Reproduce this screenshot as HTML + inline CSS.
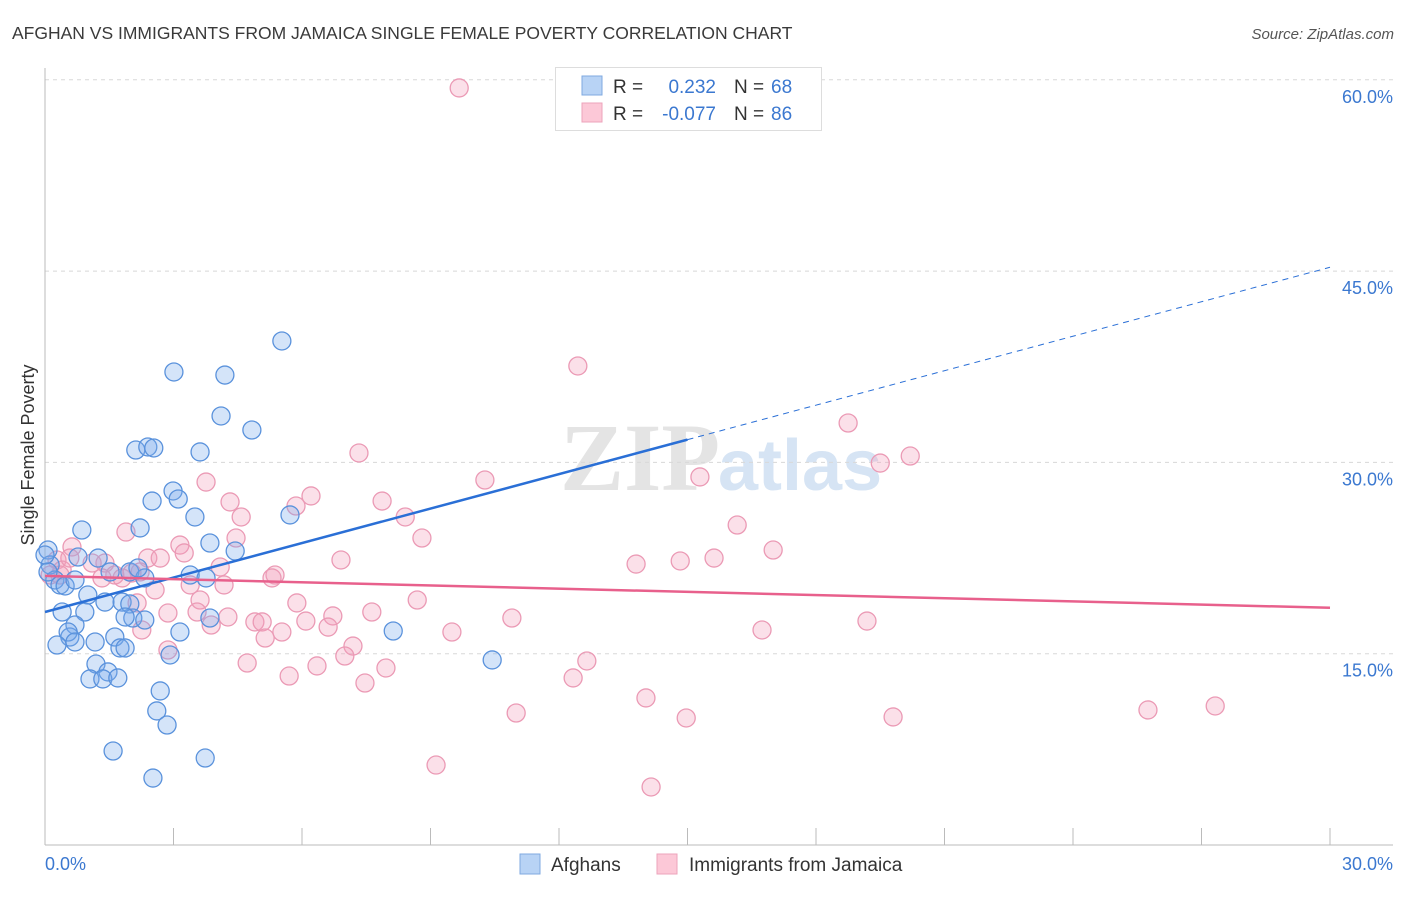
<!DOCTYPE html>
<html><head><meta charset="utf-8"><style>
body{margin:0;background:#fff;font-family:"Liberation Sans",sans-serif;}
</style></head><body>
<svg width="1406" height="892" xmlns="http://www.w3.org/2000/svg" id="chart" font-family="Liberation Sans, sans-serif">
<text x="12" y="39" font-size="17.5" fill="#3a3a3a">AFGHAN VS IMMIGRANTS FROM JAMAICA SINGLE FEMALE POVERTY CORRELATION CHART</text>
<text x="1394" y="39" font-size="15" fill="#555" font-style="italic" text-anchor="end">Source: ZipAtlas.com</text>
<text x="720" y="490" font-size="96" fill="#e4e4e4" text-anchor="end" font-family="Liberation Serif, serif" font-weight="bold">ZIP</text>
<text x="718" y="490" font-size="72" fill="#d6e4f4" font-weight="bold">atlas</text>
<g id="grid"></g>
<g id="axes"></g>
<g id="points"></g>
<g id="trends"></g>
<text transform="translate(34,455) rotate(-90)" font-size="18" fill="#333" text-anchor="middle">Single Female Poverty</text>
<g>
<rect x="555.5" y="67.5" width="266" height="63" fill="#fff" stroke="#ddd"/>
<rect x="582" y="76" width="20" height="19" fill="#b8d3f5" stroke="#7fa9e0"/>
<rect x="582" y="103" width="20" height="19" fill="#fcc8d7" stroke="#eda3bb"/>
<text x="613" y="93" font-size="19" fill="#333">R =</text>
<text x="716" y="93" font-size="19" fill="#3b78d0" text-anchor="end">0.232</text>
<text x="734" y="93" font-size="19" fill="#333">N =</text>
<text x="771" y="93" font-size="19" fill="#3b78d0">68</text>
<text x="613" y="120" font-size="19" fill="#333">R =</text>
<text x="716" y="120" font-size="19" fill="#3b78d0" text-anchor="end">-0.077</text>
<text x="734" y="120" font-size="19" fill="#333">N =</text>
<text x="771" y="120" font-size="19" fill="#3b78d0">86</text>
</g>
<g>
<rect x="520" y="854" width="20" height="20" fill="#b8d3f5" stroke="#7fa9e0"/>
<text x="551" y="871" font-size="19" fill="#333">Afghans</text>
<rect x="657" y="854" width="20" height="20" fill="#fcc8d7" stroke="#eda3bb"/>
<text x="689" y="871" font-size="19" fill="#333">Immigrants from Jamaica</text>
</g>
</svg>
<script>
const yTicks=[15,30,45,60];
const yTickLabels=["15.0%","30.0%","45.0%","60.0%"];
const xTickVals=[0,3,6,9,12,15,18,21,24,27,30];
const xEndLabels=["0.0%","30.0%"];
const afghanX=[5.53,3.01,4.20,4.11,4.83,2.12,2.40,2.54,3.62,2.99,2.50,3.11,3.50,5.72,0.86,2.22,3.85,4.44,1.24,0.77,0.07,0.12,0.23,0.35,0.07,1.52,1.98,2.33,2.17,3.39,3.76,0.47,0.70,1.00,1.40,1.80,0.40,0.93,1.98,2.05,1.87,2.33,3.15,0.70,0.58,0.54,0.70,1.17,0.28,1.63,1.75,1.87,2.92,8.13,10.44,1.19,1.47,1.05,1.35,1.70,2.69,2.61,2.85,1.59,3.85,3.74,2.52,0.00];
const afghanY=[39.52,37.09,36.85,33.64,32.54,30.97,31.21,31.13,30.82,27.76,26.97,27.13,25.72,25.88,24.70,24.86,23.68,23.05,22.50,22.58,23.13,21.96,20.78,20.39,21.41,21.41,21.41,20.94,21.72,21.17,20.94,20.31,20.78,19.60,19.05,19.05,18.27,18.27,18.90,17.80,17.88,17.64,16.70,17.25,16.31,16.70,15.92,15.92,15.68,16.31,15.45,15.45,14.90,16.78,14.51,14.19,13.57,13.02,13.02,13.10,12.08,10.51,9.41,7.37,17.80,6.82,5.25,22.74];
const jamX=[9.67,12.44,18.75,19.50,20.20,15.29,10.27,7.33,3.76,7.87,6.21,5.86,4.32,4.58,1.89,8.41,8.80,16.16,17.00,13.80,14.83,15.62,6.91,4.46,3.15,3.25,2.40,2.69,1.10,0.63,0.28,1.40,1.63,1.80,2.22,0.12,0.40,5.37,5.30,4.09,4.18,3.39,1.33,2.03,2.57,3.62,2.15,5.88,2.87,3.55,6.72,7.63,8.69,10.90,19.19,16.74,4.90,5.07,4.27,2.26,3.88,6.09,5.53,5.14,6.61,2.87,7.19,7.00,6.35,4.72,5.70,7.96,7.47,12.65,12.33,9.50,14.03,11.00,14.97,19.80,25.75,27.32,9.13,14.15,0.58,0.35];
const jamY=[59.36,37.56,33.09,29.95,30.50,28.86,28.62,30.74,28.46,26.97,27.37,26.58,26.90,25.72,24.54,25.72,24.07,25.09,23.13,22.03,22.27,22.50,22.35,24.07,23.52,22.90,22.50,22.50,22.11,23.37,22.35,22.11,21.17,20.94,21.41,21.17,21.56,21.17,20.94,21.80,20.39,20.39,20.94,21.33,20.00,19.21,18.98,18.98,18.19,18.27,17.96,18.27,19.21,17.80,17.56,16.86,17.49,17.49,17.88,16.86,17.25,17.56,16.70,16.23,17.09,15.29,15.60,14.82,14.04,14.27,13.25,13.88,12.70,14.43,13.10,16.70,11.53,10.35,9.96,10.04,10.59,10.90,6.27,4.55,22.50,21.17];
const afghanTrend=[18.27,45.3];
const jamTrend=[21.1,18.6];
const afghanSolidEnd=15;

const NS="http://www.w3.org/2000/svg";
const X0=45,X1=1330,Y0=845,PXY=191.3/15;
const sx=v=>X0+(X1-X0)*v/30;
const sy=v=>Y0-v*PXY;
function mk(tag,attrs,parent){const e=document.createElementNS(NS,tag);for(const k in attrs)e.setAttribute(k,attrs[k]);document.getElementById(parent).appendChild(e);return e;}
yTicks.forEach((t,i)=>{
  const g=mk('line',{x1:X0,x2:1393,y1:sy(t),y2:sy(t),stroke:'#d8d8d8','stroke-dasharray':'4,4'},'grid');
  
  
  const l=mk('text',{x:1393,y:sy(t)+23,'font-size':18,fill:'#3b78d0','text-anchor':'end'},'axes');
  l.textContent=yTickLabels[i];
  
  
});
const yax=mk('line',{x1:X0,x2:X0,y1:68,y2:Y0,stroke:'#bbb'},'axes');


const xax=mk('line',{x1:X0,x2:1393,y1:Y0,y2:Y0,stroke:'#bbb'},'axes');


xTickVals.forEach(t=>{
  const tk=mk('line',{x1:sx(t),x2:sx(t),y1:828,y2:Y0,stroke:'#bbb'},'axes');
  
  
});
const xl0=mk('text',{x:45,y:870,'font-size':18,fill:'#3b78d0'},'axes');
xl0.textContent=xEndLabels[0];


const xl1=mk('text',{x:1393,y:870,'font-size':18,fill:'#3b78d0','text-anchor':'end'},'axes');
xl1.textContent=xEndLabels[1];


jamX.forEach((v,i)=>{
  const c=mk('circle',{cx:sx(v),cy:sy(jamY[i]),r:9,fill:'rgba(244,160,188,0.32)',stroke:'#eb9ab5','stroke-width':1.3},'points');
  
  
});
afghanX.forEach((v,i)=>{
  const c=mk('circle',{cx:sx(v),cy:sy(afghanY[i]),r:9,fill:'rgba(120,170,235,0.32)',stroke:'#5a92dc','stroke-width':1.3},'points');
  
  
});
const ay=x=>afghanTrend[0]+(afghanTrend[1]-afghanTrend[0])*x/30;
const t1=mk('line',{x1:sx(0),y1:sy(ay(0)),x2:sx(afghanSolidEnd),y2:sy(ay(afghanSolidEnd)),stroke:'#2a6fd6','stroke-width':2.5},'trends');


const t2=mk('line',{x1:sx(afghanSolidEnd),y1:sy(ay(afghanSolidEnd)),x2:sx(30),y2:sy(ay(30)),stroke:'#2a6fd6','stroke-width':1,'stroke-dasharray':'6,5'},'trends');


const t3=mk('line',{x1:sx(0),y1:sy(jamTrend[0]),x2:sx(30),y2:sy(jamTrend[1]),stroke:'#e8608c','stroke-width':2.5},'trends');


</script>
</body></html>
